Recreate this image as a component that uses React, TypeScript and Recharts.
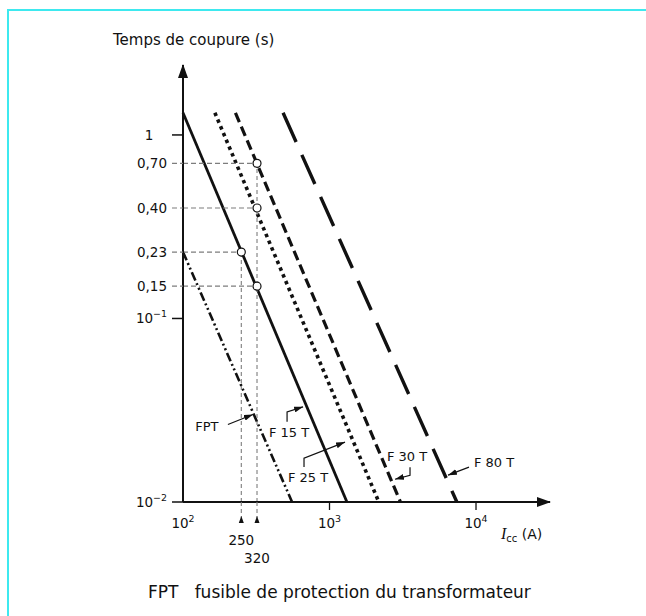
import React from "react";
import { LineChart, Line, XAxis, YAxis, ReferenceDot } from "recharts";

const W = 646;
const H = 616;
const FONT = '"DejaVu Sans", Verdana, sans-serif';
const INK = "#111";
const GUIDE = "#7d7d7d";

// fuse curves, I (A) vs t (s); straight lines on log-log paper
const FPT = [
  { i: 100, t: 0.23 },
  { i: 555, t: 0.01 },
];
const F15T = [
  { i: 100, t: 1.32 },
  { i: 1315, t: 0.01 },
];
const F25T = [
  { i: 165, t: 1.32 },
  { i: 2170, t: 0.01 },
];
const F30T = [
  { i: 228, t: 1.32 },
  { i: 3050, t: 0.01 },
];
const F80T = [
  { i: 482, t: 1.32 },
  { i: 7400, t: 0.01 },
];

// points read on the curves (circles + dashed guides)
const POINTS = [
  { i: 320, t: 0.7 },
  { i: 320, t: 0.4 },
  { i: 250, t: 0.23 },
  { i: 320, t: 0.15 },
];
const CURRENTS = [
  { i: 250, t: 0.23 },
  { i: 320, t: 0.7 },
];

const X_TICKS = [100, 250, 320, 1000, 10000];
const X_LABELS = ["10^2", "250", "320", "10^3", "10^4"];
const Y_TICKS = [0.01, 0.1, 0.15, 0.23, 0.4, 0.7, 1];
const Y_LABELS = ["10^-2", "10^-1", "0,15", "0,23", "0,40", "0,70", "1"];

// where the leader arrows touch the curves
const NOTES = [
  { name: "FPT", i: 300, t: 0.03 },
  { name: "F 15 T", i: 660, t: 0.033 },
  { name: "F 25 T", i: 1276, t: 0.0212 },
  { name: "F 30 T", i: 2800, t: 0.0133 },
  { name: "F 80 T", i: 6440, t: 0.014 },
];

// label offsets (px) from the arrow tip, and leader bends
const NOTE_LAYOUT: Record<string, { text: number[]; path: number[][] }> = {
  FPT: { text: [-46, 12], path: [[-25, 10]] },
  "F 15 T": { text: [-14, 26], path: [[-16, 15], [-16, 5]] },
  "F 25 T": { text: [-37, 35], path: [[-41, 25], [-41, 16]] },
  "F 30 T": { text: [12, -23], path: [[15, -12], [15, -4]] },
  "F 80 T": { text: [46, -13], path: [[21, -8]] },
};

const SERIES = [
  { key: "FPT", data: FPT, width: 2.6, dash: "9 3 2 3 2 3" },
  { key: "F15T", data: F15T, width: 2.8, dash: undefined },
  { key: "F25T", data: F25T, width: 3.6, dash: "3.5 3.8" },
  { key: "F30T", data: F30T, width: 3.2, dash: "10 5" },
  { key: "F80T", data: F80T, width: 3.4, dash: "32 14" },
];

function Pow({ x, y, text, anchor, size }: any) {
  const [b, e] = String(text).split("^");
  return (
    <text x={x} y={y} textAnchor={anchor} fontSize={size} fontFamily={FONT} fill={INK}>
      {b}
      {e ? (
        <tspan dy={-6} fontSize={size * 0.7}>
          {e.replace("-", "\u2212")}
        </tspan>
      ) : null}
    </text>
  );
}

function YTick(props: any) {
  const { x, y, payload } = props;
  const label = Y_LABELS[Y_TICKS.indexOf(payload.value)];
  const major = label.includes("^") || label === "1";
  const ax = x + 15;
  return (
    <g>
      <line
        x1={ax - 11}
        x2={ax}
        y1={y}
        y2={y}
        stroke={major ? INK : GUIDE}
        strokeWidth={major ? 1.5 : 1.1}
        strokeDasharray={major ? undefined : "5 3"}
      />
      <Pow
        x={label === "1" ? ax - 34 : ax - 16}
        y={y + 5}
        text={label}
        anchor={label === "1" ? "middle" : "end"}
        size={13.5}
      />
    </g>
  );
}

function XTick(props: any) {
  const { x, y, payload } = props;
  const v = payload.value;
  const label = X_LABELS[X_TICKS.indexOf(v)];
  const ay = y - 12;
  if (!label.includes("^")) {
    const ly = v === 250 ? ay + 43 : ay + 61;
    return (
      <g>
        <line x1={x} x2={x} y1={ay} y2={ay + 16} stroke={GUIDE} strokeWidth={1.1} strokeDasharray="4 3" />
        <path d={`M${x},${ay + 14} l-2.5,7 h5 z`} fill={INK} />
        <text x={x} y={ly} textAnchor="middle" fontSize={13.5} fontFamily={FONT} fill={INK}>
          {label}
        </text>
      </g>
    );
  }
  return (
    <g>
      {v !== 100 ? <line x1={x} x2={x} y1={ay} y2={ay + 8} stroke={INK} strokeWidth={1.3} /> : null}
      <Pow x={x} y={ay + 26} text={label} anchor="middle" size={13.5} />
    </g>
  );
}

function IccLabel(props: any) {
  const vb = props.viewBox || {};
  return (
    <text x={vb.x + vb.width - 49} y={vb.y + 37} fontSize={14} fontFamily={FONT} fill={INK}>
      <tspan fontFamily='"Liberation Serif", serif' fontStyle="italic" fontSize={16}>
        I
      </tspan>
      <tspan dy={3} fontSize={10}>
        cc
      </tspan>
      <tspan dy={-3}> (A)</tspan>
    </text>
  );
}

function Note({ cx, cy, name }: any) {
  const s = NOTE_LAYOUT[name];
  const pts = [...s.path, [0, 0]].map(([dx, dy]) => `${cx + dx},${cy + dy}`).join(" ");
  return (
    <g>
      <polyline points={pts} fill="none" stroke={INK} strokeWidth={1.2} markerEnd="url(#leadArrow)" />
      <text
        x={cx + s.text[0]}
        y={cy + s.text[1] + 4.5}
        textAnchor="middle"
        fontSize={13}
        fontFamily={FONT}
        fill={INK}
      >
        {name}
      </text>
    </g>
  );
}

const circleDot = (p: any) =>
  p.index === 1 ? (
    <circle key={`c${p.cx}-${p.cy}`} cx={p.cx} cy={p.cy} r={4} fill="#fff" stroke={INK} strokeWidth={1.2} />
  ) : (
    <g key={`n${p.cx}-${p.cy}`} />
  );

export default function App() {
  return (
    <div style={{ position: "absolute", left: 0, top: 0, width: W, height: H, background: "#fff" }}>
      <svg width={0} height={0} style={{ position: "absolute" }}>
        <defs>
          <marker
            id="axArrow"
            viewBox="0 0 14 10"
            refX="13"
            refY="5"
            markerWidth="14"
            markerHeight="10"
            markerUnits="userSpaceOnUse"
            orient="auto-start-reverse"
          >
            <path d="M0,0 L14,5 L0,10 z" fill={INK} />
          </marker>
          <marker
            id="leadArrow"
            viewBox="0 0 9 6"
            refX="9"
            refY="3"
            markerWidth="9"
            markerHeight="6"
            markerUnits="userSpaceOnUse"
            orient="auto"
          >
            <path d="M0,0 L9,3 L0,6 z" fill={INK} />
          </marker>
        </defs>
      </svg>
      <div style={{ position: "absolute", left: 7, top: 9, width: W - 7, height: 2, background: "#3ee9ef" }} />
      <div style={{ position: "absolute", left: 7, top: 9, width: 2, height: H - 9, background: "#3ee9ef" }} />
      <div
        style={{
          position: "absolute",
          left: 113,
          top: 31,
          fontFamily: FONT,
          fontSize: 15,
          lineHeight: "18px",
          color: INK,
          whiteSpace: "nowrap",
        }}
      >
        Temps de coupure (s)
      </div>
      <div
        style={{
          position: "absolute",
          left: 148,
          top: 582,
          fontFamily: FONT,
          fontSize: 17,
          lineHeight: "20px",
          color: INK,
          whiteSpace: "pre",
        }}
      >
        {"FPT   fusible de protection du transformateur"}
      </div>
      <div style={{ position: "absolute", left: 0, top: 0 }}>
        <LineChart width={W} height={H} margin={{ top: 65, right: 96, bottom: 84, left: 123 }}>
          <XAxis
            dataKey="i"
            type="number"
            scale="log"
            domain={[100, 31990]}
            ticks={X_TICKS}
            interval={0}
            tick={<XTick />}
            tickLine={false}
            tickSize={8}
            tickMargin={4}
            height={30}
            axisLine={{ stroke: INK, strokeWidth: 2, markerEnd: "url(#axArrow)" }}
            label={<IccLabel />}
          />
          <YAxis
            dataKey="t"
            type="number"
            scale="log"
            domain={[0.01, 2.405]}
            ticks={Y_TICKS}
            interval={0}
            tick={<YTick />}
            tickLine={false}
            tickSize={10}
            tickMargin={5}
            width={60}
            axisLine={{ stroke: INK, strokeWidth: 2, markerStart: "url(#axArrow)" }}
          />
          {SERIES.map((s) => (
            <Line
              key={s.key}
              data={s.data}
              dataKey="t"
              type="linear"
              stroke={INK}
              strokeWidth={s.width}
              strokeDasharray={s.dash}
              dot={false}
              activeDot={false}
              isAnimationActive={false}
            />
          ))}
          {CURRENTS.map((c, k) => (
            <Line
              key={`v${k}`}
              data={[
                { i: c.i, t: 0.01 },
                { i: c.i, t: c.t },
              ]}
              dataKey="t"
              stroke={GUIDE}
              strokeWidth={1.1}
              strokeDasharray="4 3"
              dot={false}
              activeDot={false}
              isAnimationActive={false}
            />
          ))}
          {POINTS.map((p, k) => (
            <Line
              key={`h${k}`}
              data={[
                { i: 100, t: p.t },
                { i: p.i, t: p.t },
              ]}
              dataKey="t"
              stroke={GUIDE}
              strokeWidth={1.1}
              strokeDasharray="5 3"
              dot={circleDot}
              activeDot={false}
              isAnimationActive={false}
            />
          ))}
          {NOTES.map((n) => (
            <ReferenceDot
              key={n.name}
              x={n.i}
              y={n.t}
              r={0}
              ifOverflow="visible"
              shape={(p: any) => <Note cx={p.cx} cy={p.cy} name={n.name} />}
            />
          ))}
        </LineChart>
      </div>
    </div>
  );
}
